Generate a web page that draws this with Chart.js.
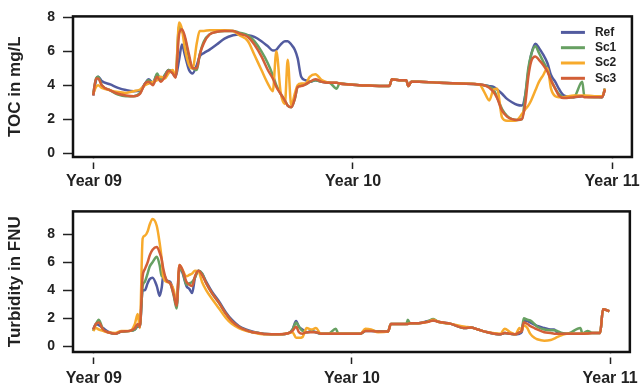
<!DOCTYPE html>
<html>
<head>
<meta charset="utf-8">
<script src="https://cdn.jsdelivr.net/npm/chart.js@4.4.1/dist/chart.umd.min.js"></script>
<style>
  html, body { margin: 0; padding: 0; background: #fff; }
  canvas { display: block; }
</style>
</head>
<body>
<canvas id="toc" width="643" height="195"></canvas>
<canvas id="turb" width="643" height="195"></canvas>
<script>
// days since start of "Year 09"
const tickDays = [0, 365, 730];
const tickLabels = ["Year 09", "Year 10", "Year 11"];
const yTicks = [0, 2, 4, 6, 8];

const seriesNames = ["Ref", "Sc1", "Sc2", "Sc3"];
const seriesColors = ["#525b9f", "#67a062", "#f7aa2c", "#d25f37"];

// TOC panel
const tocDays = [-1, 3, 6, 11, 23, 34, 45, 56, 65, 72,
    77, 83, 89, 94, 100, 105, 111, 115, 120, 124,
    128, 134, 139, 145, 149, 155, 163, 173, 184, 196,
    205, 217, 226, 236, 245, 252, 257, 263, 269, 273,
    278, 283, 287, 292, 298, 304, 312, 321, 332, 342,
    346, 360, 374, 388, 402, 416, 420, 430, 440, 443,
    447, 458, 487, 515, 543, 550, 557, 563, 568, 575,
    582, 589, 596, 603, 608, 612, 616, 622, 627, 633,
    639, 644, 650, 655, 662, 676, 688, 691, 705, 716,
    720];

const tocRef = [3.4, 4.3, 4.5, 4.25, 4.05, 3.85, 3.72, 3.65, 3.7, 4.1,
    4.35, 4.15, 4.6, 4.3, 4.6, 4.9, 4.7, 4.5, 5.5, 6.4,
    5.8, 4.9, 4.7, 5.2, 5.7, 5.9, 6.1, 6.4, 6.75, 6.95,
    7.0, 6.95, 6.85, 6.6, 6.3, 6.05, 6.1, 6.4, 6.6, 6.6,
    6.4, 6.1, 5.6, 4.5, 4.3, 4.2, 4.3, 4.2, 4.15, 4.15,
    4.1, 4.05, 4.0, 3.98, 3.96, 3.95, 4.35, 4.3, 4.3, 3.95,
    4.2, 4.2, 4.15, 4.1, 4.05, 4.0, 3.95, 3.9, 3.75, 3.5,
    3.2, 3.0, 2.85, 2.8, 3.5, 4.8, 5.8, 6.45, 6.2, 5.8,
    5.3, 4.6, 4.2, 3.8, 3.4, 3.3, 3.35, 3.35, 3.35, 3.3,
    3.8];

const tocSc1 = [3.5, 4.4, 4.5, 4.0, 3.7, 3.45, 3.35, 3.35, 3.55, 4.1,
    4.3, 4.1, 4.7, 4.3, 4.6, 4.9, 4.8, 4.5, 7.5, 7.2,
    6.8, 5.6, 5.0, 4.9, 5.8, 6.6, 7.0, 7.15, 7.2, 7.2,
    7.1, 6.95, 6.6, 6.0, 5.3, 4.6, 4.0, 3.5, 3.1, 2.8,
    2.7, 3.2, 3.9, 4.0, 4.05, 4.2, 4.3, 4.2, 4.15, 3.8,
    4.1, 4.05, 4.0, 3.98, 3.96, 3.95, 4.35, 4.3, 4.3, 3.95,
    4.2, 4.2, 4.15, 4.1, 4.05, 4.0, 3.9, 3.75, 3.3, 2.6,
    2.2, 2.0, 1.95, 2.0, 3.5, 5.0, 5.8, 6.3, 5.9, 5.4,
    4.9, 4.3, 3.8, 3.5, 3.3, 3.3, 4.2, 3.35, 3.3, 3.3,
    3.8];

const tocSc2 = [3.5, 3.9, 4.0, 3.85, 3.7, 3.6, 3.55, 3.65, 3.75, 4.0,
    4.1, 4.2, 4.3, 4.5, 4.4, 4.7, 4.9, 4.5, 7.7, 7.3,
    6.2, 5.2, 5.0, 6.5, 7.2, 7.2, 7.25, 7.25, 7.25, 7.2,
    6.95, 6.6, 5.8, 4.9, 4.1, 3.65, 6.0, 3.6, 2.9, 5.5,
    2.8, 3.5, 4.0, 4.1, 4.1, 4.5, 4.65, 4.3, 4.15, 4.15,
    4.1, 4.05, 4.0, 3.98, 3.96, 3.95, 4.35, 4.3, 4.3, 3.95,
    4.2, 4.2, 4.15, 4.1, 4.05, 3.6, 3.1, 3.75, 3.8, 2.1,
    1.9, 1.9, 1.95, 2.3, 2.6, 2.8, 3.1, 3.7, 4.2, 4.6,
    5.0, 3.8, 3.35, 3.3, 3.3, 3.4, 3.4, 3.4, 3.35, 3.35,
    3.8];

const tocSc3 = [3.4, 4.4, 4.4, 4.0, 3.7, 3.5, 3.4, 3.35, 3.5, 4.1,
    4.2, 4.0, 4.5, 4.2, 4.5, 4.85, 4.7, 4.45, 7.0, 7.3,
    6.9, 5.8, 5.0, 5.0, 5.8, 6.5, 7.0, 7.15, 7.2, 7.2,
    7.05, 6.85, 6.4, 5.7, 4.9, 4.4, 3.9, 3.5, 3.1, 2.8,
    2.7, 3.2, 3.9, 3.95, 4.05, 4.2, 4.35, 4.2, 4.15, 4.15,
    4.1, 4.05, 4.0, 3.98, 3.96, 3.95, 4.35, 4.3, 4.3, 3.95,
    4.2, 4.2, 4.15, 4.1, 4.05, 4.0, 3.85, 3.6, 3.25, 2.5,
    2.15, 2.0, 1.95, 2.0, 3.0, 4.5, 5.4, 5.7, 5.5, 5.2,
    4.8, 4.3, 3.8, 3.4, 3.25, 3.3, 3.35, 3.3, 3.3, 3.3,
    3.75];

// Turbidity panel
const turbDays = [-1, 3, 7, 13, 20, 30, 39, 51, 58, 62,
    65, 69, 72, 76, 79, 83, 89, 93, 96, 98,
    103, 108, 113, 117, 121, 125, 131, 135, 139, 143,
    148, 153, 159, 167, 177, 187, 195, 205, 215, 224,
    233, 243, 262, 276, 281, 286, 290, 295, 301, 308,
    314, 321, 332, 342, 346, 360, 377, 384, 392, 402,
    416, 420, 430, 442, 444, 447, 459, 473, 480, 487,
    505, 525, 533, 543, 557, 575, 581, 589, 596, 602,
    605, 608, 613, 617, 623, 627, 637, 646, 651, 655,
    662, 669, 688, 691, 698, 705, 716, 720, 729];

const turbRef = [1.2, 1.6, 1.5, 1.3, 1.05, 0.9, 1.05, 1.1, 1.2, 1.4,
    1.4, 4.0, 4.0, 4.5, 4.8, 4.9, 4.3, 3.6, 4.2, 5.0,
    4.7, 4.6, 3.8, 2.9, 5.6, 5.3, 4.3, 4.1, 3.8, 4.9,
    5.4, 5.2, 4.6, 3.9, 3.2, 2.4, 1.9, 1.45, 1.2, 1.05,
    0.95, 0.87, 0.85, 0.95, 1.2, 1.8, 1.4, 1.2, 1.0, 1.1,
    1.0, 0.9, 0.9, 0.9, 0.9, 0.9, 0.9, 1.1, 1.1, 1.05,
    1.05, 1.6, 1.6, 1.6, 1.6, 1.65, 1.65, 1.8, 1.85, 1.75,
    1.6, 1.3, 1.35, 1.2, 1.0, 0.85, 0.95, 0.9, 0.85, 0.9,
    1.0, 1.8, 1.8, 1.7, 1.55, 1.45, 1.3, 1.2, 1.2, 1.0,
    0.9, 0.9, 0.9, 0.9, 0.92, 0.95, 0.95, 2.65, 2.5];

const turbSc1 = [1.1, 1.6, 1.9, 1.2, 1.0, 0.9, 1.05, 1.1, 1.2, 1.5,
    1.4, 4.3, 4.6, 5.2, 5.7, 6.0, 6.4, 5.8, 5.0, 5.2,
    4.7, 4.5, 3.6, 2.7, 5.5, 5.4, 4.4, 4.5, 4.6, 4.9,
    5.4, 5.2, 4.5, 3.8, 3.1, 2.3, 1.8, 1.4, 1.15, 1.0,
    0.95, 0.87, 0.85, 0.95, 1.2, 1.7, 1.4, 1.1, 1.0, 1.05,
    1.0, 0.9, 0.9, 1.25, 0.9, 0.9, 0.9, 1.1, 1.15, 1.05,
    1.05, 1.6, 1.6, 1.6, 1.9, 1.65, 1.65, 1.8, 1.95, 1.75,
    1.6, 1.3, 1.35, 1.2, 1.0, 0.85, 0.95, 0.9, 0.85, 1.0,
    1.1, 2.0, 1.9, 1.85, 1.6, 1.4, 1.2, 1.15, 1.15, 1.1,
    0.95, 0.9, 1.3, 0.9, 1.1, 0.95, 0.95, 2.65, 2.5];

const turbSc2 = [1.1, 1.3, 1.2, 1.1, 1.0, 0.95, 1.1, 1.1, 1.6, 2.3,
    1.3, 7.7, 7.9, 8.2, 8.7, 9.1, 8.6, 7.4, 6.2, 5.0,
    4.6, 4.5, 4.0, 3.1, 5.8, 5.5, 5.0, 5.1, 5.2, 5.4,
    5.35, 4.6, 4.0, 3.4, 2.7, 2.0, 1.6, 1.3, 1.1, 1.0,
    0.9, 0.85, 0.85, 0.95, 1.0, 0.6, 0.6, 0.65, 1.3, 1.2,
    1.3, 0.9, 0.9, 0.9, 0.9, 0.9, 0.9, 1.25, 1.2, 1.0,
    1.05, 1.6, 1.6, 1.6, 1.6, 1.65, 1.65, 1.75, 1.9, 1.75,
    1.6, 1.4, 1.35, 1.2, 1.0, 0.9, 1.25, 1.0, 0.85, 1.3,
    1.1, 1.5, 1.3, 0.9, 0.6, 0.5, 0.4, 0.45, 0.55, 0.65,
    0.8, 0.9, 0.9, 0.9, 0.92, 0.95, 0.95, 2.65, 2.5];

const turbSc3 = [1.2, 1.6, 1.7, 1.2, 1.0, 0.9, 1.05, 1.1, 1.3, 1.6,
    1.4, 5.0, 5.5, 6.0, 6.5, 6.9, 7.1, 6.7, 6.2, 5.6,
    4.7, 4.5, 3.7, 2.9, 5.8, 5.5, 4.6, 4.4, 4.3, 5.0,
    5.4, 5.1, 4.5, 3.8, 3.1, 2.3, 1.8, 1.4, 1.15, 1.0,
    0.95, 0.87, 0.85, 0.95, 1.1, 1.4, 1.0, 0.9, 1.0, 1.0,
    1.0, 0.9, 0.9, 0.9, 0.9, 0.9, 0.9, 1.1, 1.1, 1.05,
    1.05, 1.6, 1.6, 1.6, 1.6, 1.65, 1.65, 1.75, 1.85, 1.75,
    1.6, 1.3, 1.35, 1.2, 1.0, 0.85, 0.95, 0.9, 0.85, 1.0,
    1.1, 1.7, 1.6, 1.45, 1.3, 1.2, 1.0, 0.95, 0.9, 0.9,
    0.9, 0.9, 0.9, 0.9, 0.92, 0.95, 0.95, 2.65, 2.5];

const FONT = "'Liberation Sans', Arial, sans-serif";
const INK = "#222";

// frame round the plot area, with the small gap under it before the x ticks
const boxPlugin = {
    id: "box",
    afterDraw(chart) {
        const a = chart.chartArea;
        const ctx = chart.ctx;
        ctx.save();
        ctx.fillStyle = "#fff";
        ctx.fillRect(a.left - 15, a.bottom + 1.3, a.right - a.left + 30, 4.2);
        ctx.strokeStyle = "#111";
        ctx.lineWidth = 2.5;
        ctx.strokeRect(a.left, a.top, a.right - a.left, a.bottom - a.top);
        ctx.restore();
    }
};

const legendPlugin = {
    id: "insideLegend",
    afterDraw(chart) {
        if (!chart.options.plugins.insideLegend) return;
        const ctx = chart.ctx;
        const a = chart.chartArea;
        ctx.save();
        ctx.font = "bold 12px " + FONT;
        ctx.textBaseline = "middle";
        chart.data.datasets.forEach((ds, i) => {
            const y = a.top + 16 + i * 15.3;
            ctx.strokeStyle = ds.borderColor;
            ctx.lineWidth = 3;
            ctx.beginPath();
            ctx.moveTo(a.right - 71, y);
            ctx.lineTo(a.right - 47, y);
            ctx.stroke();
            ctx.fillStyle = INK;
            ctx.fillText(ds.label, a.right - 37, y);
        });
        ctx.restore();
    }
};

function makeChart(canvas, days, values, yMin, yMax, yTitle, padTop, xPad, legend) {
    return new Chart(canvas, {
        type: "line",
        data: {
            datasets: values.map((vals, i) => ({
                label: seriesNames[i],
                data: vals.map((v, j) => ({ x: days[j], y: v })),
                borderColor: seriesColors[i],
                borderWidth: 2.5,
                pointRadius: 0,
                fill: false,
                cubicInterpolationMode: "monotone",
                order: 4 - i
            }))
        },
        options: {
            responsive: false,
            animation: false,
            layout: { padding: { top: padTop, right: 10, left: 0, bottom: 0 } },
            plugins: {
                legend: { display: false },
                tooltip: { enabled: false },
                insideLegend: legend
            },
            scales: {
                x: {
                    type: "linear",
                    min: -29.5,
                    max: 758,
                    afterBuildTicks: (s) => { s.ticks = tickDays.map((v) => ({ value: v })); },
                    afterFit: (s) => { s.height = 38; },
                    border: { display: false },
                    grid: {
                        drawOnChartArea: false,
                        tickLength: 12,
                        tickColor: INK,
                        tickWidth: 1.5
                    },
                    ticks: {
                        autoSkip: false,
                        maxRotation: 0,
                        padding: xPad,
                        color: INK,
                        font: { family: FONT, size: 16, weight: "bold" },
                        callback: (v, i) => tickLabels[i]
                    }
                },
                y: {
                    min: yMin,
                    max: yMax,
                    afterBuildTicks: (s) => { s.ticks = yTicks.map((v) => ({ value: v })); },
                    afterFit: (s) => { s.width = 73; },
                    border: { display: false },
                    grid: {
                        drawOnChartArea: false,
                        tickLength: 10,
                        tickColor: INK,
                        tickWidth: 1.5
                    },
                    ticks: {
                        padding: 8,
                        color: INK,
                        font: { family: FONT, size: 14, weight: "bold" }
                    },
                    title: {
                        display: true,
                        text: yTitle,
                        color: INK,
                        padding: { top: 5, bottom: 0 },
                        font: { family: FONT, size: 17, weight: "bold" }
                    }
                }
            }
        },
        plugins: [boxPlugin, legendPlugin]
    });
}

makeChart(document.getElementById("toc"), tocDays,
    [tocRef, tocSc1, tocSc2, tocSc3], -0.23, 8.06, "TOC in mg/L", 14, 3, true);

makeChart(document.getElementById("turb"), turbDays,
    [turbRef, turbSc1, turbSc2, turbSc3], -0.41, 9.64, "Turbidity in FNU", 11, 5, false);
</script>
</body>
</html>
